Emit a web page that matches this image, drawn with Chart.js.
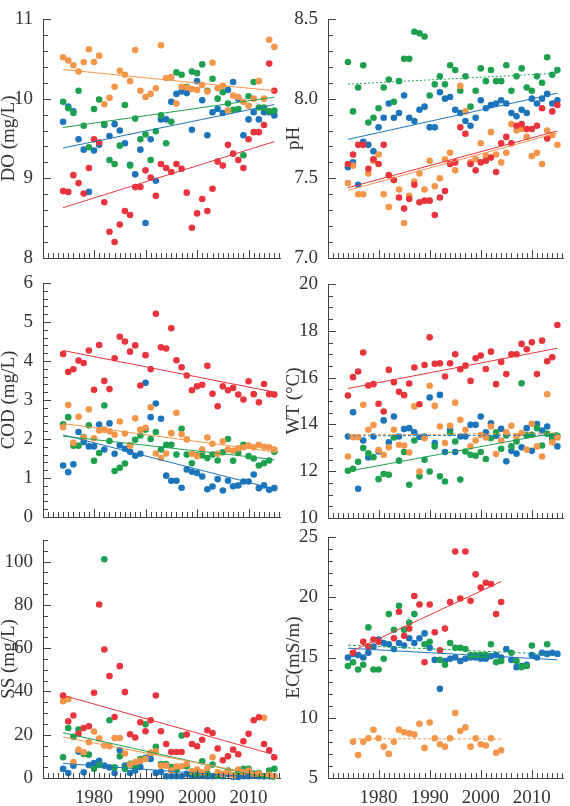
<!DOCTYPE html>
<html>
<head>
<meta charset="utf-8">
<script src="https://cdn.jsdelivr.net/npm/chart.js@4.4.1/dist/chart.umd.min.js"></script>
<style>
  body { margin: 0; background: #fff; }
  #wrap { position: relative; width: 570px; height: 806px; overflow: hidden; }
  canvas { position: absolute; }
</style>
</head>
<body>
<div id="wrap">
  <canvas id="cDO" width="285" height="272" style="left:0;top:0"></canvas>
  <canvas id="cPH" width="285" height="272" style="left:285px;top:0"></canvas>
  <canvas id="cCOD" width="285" height="270" style="left:0;top:265px"></canvas>
  <canvas id="cWT" width="285" height="270" style="left:285px;top:265px"></canvas>
  <canvas id="cSS" width="285" height="286" style="left:0;top:520px"></canvas>
  <canvas id="cEC" width="285" height="286" style="left:285px;top:520px"></canvas>
</div>
<script>
const years = [1974, 1975, 1976, 1977, 1978, 1979, 1980, 1981, 1982, 1983,
  1984, 1985, 1986, 1987, 1988, 1989, 1990, 1991, 1992, 1993,
  1994, 1995, 1996, 1997, 1998, 1999, 2000, 2001, 2002, 2003,
  2004, 2005, 2006, 2007, 2008, 2009, 2010, 2011, 2012, 2013,
  2014, 2015];
const yearLabels = [1980, 1990, 2000, 2010];

// DO (mg/L)
const doRed = [8.84, 8.83, 9.04, 8.94, 8.81, 9.13, 9.49, 9.45, 8.70, 8.33,
  8.20, 8.42, 8.59, 8.54, 8.89, 8.89, 9.10, 9.01, 8.78, 9.18,
  9.13, 9.08, 9.18, 9.12, 8.82, 8.38, 8.56, 8.74, 8.59, 8.87,
  9.21, 9.16, 9.42, 9.31, 9.23, 9.13, 9.49, 9.58, 9.58, 9.67,
  10.44, 10.10];
const doOrange = [10.52, 10.48, 10.42, 10.34, 10.46, 10.62, 10.46, 10.54, 9.93, 10.01,
  10.15, 10.35, 10.30, 10.22, 10.61, 10.10, 10.02, 10.06, 10.13, 10.67,
  10.26, 10.27, 9.94, 10.15, 10.14, 10.12, 10.11, 10.17, 10.09, 10.45,
  10.13, 10.16, 9.85, 10.04, 10.02, 9.96, 9.91, 10.00, 10.22, 10.00,
  10.74, 10.65];
const doGreen = [9.96, 9.88, 9.82, 10.10, 9.66, 9.39, 9.87, 9.99, 9.68, 9.23,
  9.18, 9.41, 9.92, 9.16, 9.75, 9.49, 9.55, 9.23, 9.59, 9.79,
  9.44, 9.71, 10.33, 10.30, 10.15, 10.34, 10.32, 10.43, 10.10, 10.25,
  10.00, 10.08, 9.94, 9.86, 9.87, 9.29, 10.03, 10.21, 9.89, 9.89,
  9.84, 9.85];
const doBlue = [9.71, 9.90, 9.84, 9.49, 9.36, 8.83, 9.35, 9.42, 9.67, 9.53,
  9.68, 9.60, 9.44, 9.17, 9.05, 9.36, 8.44, 9.49, 8.97, 9.74,
  9.74, 9.96, 10.06, 10.09, 10.07, 9.61, 10.22, 9.98, 9.54, 9.83,
  9.87, 9.82, 10.11, 10.21, 10.00, 9.54, 9.74, 9.83, 9.74, 9.83,
  9.83, 9.79];
const doTicks = [8, 9, 10, 11];

// pH
const phRed = [7.59, 7.65, 7.71, 7.71, 7.56, 7.62, 7.59, 7.71, 7.52, 7.49,
  7.38, 7.31, 7.37, 7.46, 7.35, 7.36, 7.36, 7.27, 7.38, 7.42,
  7.59, 7.60, 7.82, 7.78, 7.59, 7.55, 7.60, 7.61, 7.63, 7.54,
  7.72, 7.76, 7.72, 7.83, 7.84, 7.81, 7.81, 7.83, 7.94, 7.75,
  7.92, 7.96];
const phOrange = [7.47, 7.58, 7.40, 7.40, 7.53, 7.61, 7.65, 7.40, 7.32, 7.49,
  7.43, 7.22, 7.39, 7.48, 7.53, 7.43, 7.61, 7.45, 7.50, 7.62,
  7.66, 7.55, 8.08, 7.92, 7.60, 7.62, 7.72, 7.64, 7.79, 7.65,
  7.60, 7.66, 7.84, 7.80, 7.81, 7.76, 7.64, 7.66, 7.59, 7.80,
  7.77, 7.71];
const phGreen = [8.23, 7.92, 8.07, 8.21, 7.85, 7.88, 7.94, 8.07, 8.12, 7.98,
  8.11, 8.25, 8.25, 8.42, 8.41, 8.39, 8.02, 8.09, 8.14, 8.09,
  8.21, 8.18, 8.05, 8.14, 7.95, 8.05, 8.19, 8.11, 8.18, 8.11,
  8.11, 8.21, 8.05, 8.14, 8.19, 8.07, 8.05, 8.14, 8.10, 8.26,
  8.15, 8.18];
const phBlue = [7.57, 7.60, 7.46, 7.73, 7.71, 7.67, 7.82, 7.88, 7.97, 7.88,
  7.91, 8.02, 7.88, 7.86, 7.93, 7.95, 7.82, 7.82, 8.04, 8.00,
  8.01, 7.93, 7.91, 7.86, 7.83, 7.88, 7.99, 7.94, 7.96, 7.97,
  7.99, 7.97, 7.91, 7.89, 7.93, 7.91, 8.00, 7.97, 8.00, 8.03,
  7.97, 7.99];
const phTicks = [7.0, 7.5, 8.0, 8.5];

// COD (mg/L)
const codRed = [4.18, 3.72, 3.79, 4.01, 3.95, 4.27, 3.26, 4.41, 3.49, 3.28,
  4.07, 4.62, 4.50, 4.24, 4.40, 3.37, 4.15, 3.79, 5.21, 4.35,
  4.32, 4.84, 4.02, 3.84, 3.63, 3.25, 3.35, 3.39, 3.88, 3.16,
  2.84, 3.35, 3.25, 3.31, 3.14, 3.01, 3.48, 3.15, 2.94, 3.41,
  3.15, 3.14];
const codOrange = [2.30, 2.87, 1.90, 2.57, 2.04, 2.76, 2.02, 2.22, 2.24, 2.20,
  2.11, 2.45, 2.14, 1.83, 2.53, 2.24, 2.29, 2.81, 1.63, 1.51,
  1.63, 2.15, 2.67, 2.12, 1.99, 1.62, 1.56, 1.73, 2.04, 1.88,
  1.62, 1.94, 1.73, 1.70, 1.76, 1.79, 1.83, 1.79, 1.85, 1.80,
  1.79, 1.73];
const codGreen = [2.38, 2.56, 1.83, 1.83, 2.05, 2.35, 1.44, 1.64, 2.86, 1.95,
  1.18, 1.26, 1.37, 1.84, 1.98, 2.09, 2.24, 2.00, 2.18, 1.73,
  1.85, 1.85, 1.60, 2.26, 1.60, 1.38, 1.58, 1.58, 1.51, 1.60,
  1.45, 1.66, 2.00, 1.44, 1.64, 1.85, 1.56, 1.50, 1.32, 1.38,
  1.45, 1.67];
const codBlue = [1.32, 1.15, 1.35, 2.18, 1.92, 1.81, 1.81, 2.37, 1.73, 2.40,
  1.62, 1.84, 1.75, 1.67, 1.57, 1.62, 3.44, 2.56, 2.91, 2.52,
  1.06, 0.93, 0.93, 0.75, 1.22, 1.16, 1.13, 1.04, 0.71, 0.78,
  0.97, 0.68, 0.93, 0.79, 0.81, 0.91, 0.91, 1.09, 0.74, 0.81,
  0.70, 0.74];
const codTicks = [0, 1, 2, 3, 4, 5, 6];

// WT (°C)
const wtRed = [15.23, 16.02, 16.26, 17.07, 15.66, 15.72, 14.88, 14.55, 16.33, 15.80,
  15.39, 15.25, 15.75, 16.43, 14.86, 16.54, 17.72, 16.59, 16.61, 16.05,
  16.61, 17.00, 16.36, 16.51, 15.86, 16.83, 16.94, 16.37, 17.11, 15.72,
  16.67, 16.15, 17.00, 17.00, 17.44, 17.21, 17.51, 16.15, 17.58, 16.70,
  16.87, 18.25];
const wtOrange = [12.63, 13.45, 13.45, 14.84, 13.77, 13.97, 12.90, 12.70, 13.02, 13.77,
  13.13, 13.10, 12.80, 14.77, 11.99, 13.41, 15.65, 14.79, 13.91, 13.20,
  13.94, 14.93, 14.20, 13.77, 13.06, 13.31, 13.55, 13.44, 13.91, 12.73,
  13.31, 13.66, 13.94, 13.49, 13.63, 12.92, 14.03, 13.06, 12.63, 15.29,
  13.23, 13.44];
const wtGreen = [12.02, 12.10, 12.40, 12.99, 12.77, 12.60, 11.66, 11.88, 11.85, 13.44,
  12.45, 12.82, 11.42, 13.31, 11.78, 12.49, 11.99, 13.06, 11.78, 11.56,
  13.63, 13.27, 11.64, 12.84, 12.70, 12.66, 12.82, 12.52, 13.41, 13.66,
  12.96, 13.53, 13.06, 13.27, 15.76, 13.53, 13.56, 13.84, 13.10, 13.60,
  13.48, 13.50];
const wtBlue = [13.48, 14.52, 11.25, 13.31, 12.59, 13.48, 12.84, 14.17, 13.24, 14.34,
  13.48, 13.80, 13.84, 13.66, 13.46, 13.48, 15.15, 13.20, 15.26, 12.82,
  13.77, 12.82, 13.48, 13.48, 13.98, 13.98, 14.34, 13.66, 14.05, 13.51,
  13.81, 12.42, 12.87, 12.75, 13.02, 13.84, 12.87, 14.01, 13.74, 13.91,
  13.39, 13.06];
const wtTicks = [10, 12, 14, 16, 18, 20];

// SS (mg/L)
const ssRed = [38.1, 26.2, 28.9, 20.5, 23.1, 23.9, 39.4, 80.2, 59.4, 47.1,
  28.2, 51.7, 39.7, 20.2, 18.7, 25.8, 21.6, 26.7, 38.1, 21.6,
  15.7, 12.0, 12.0, 12.0, 20.1, 15.7, 14.7, 17.7, 22.1, 20.8,
  13.6, 8.2, 10.0, 13.1, 11.0, 17.0, 20.4, 26.7, 28.1, 15.7,
  12.8, 9.6];
const ssOrange = [35.5, 36.4, 7.4, 13.1, 11.9, 16.5, 21.5, 18.2, 15.0, 14.7,
  18.5, 18.5, 11.3, 6.2, 7.4, 7.9, 8.8, 11.6, 12.3, 5.7,
  5.7, 3.5, 5.4, 5.4, 6.5, 3.1, 3.9, 2.6, 4.6, 9.6,
  2.6, 1.9, 2.8, 1.1, 3.9, 2.6, 3.5, 1.5, 2.0, 27.8,
  1.5, 0.8];
const ssGreen = [9.6, 23.1, 19.0, 22.4, 11.1, 10.8, 4.3, 6.0, 101.1, 26.7,
  5.0, 10.0, 4.2, 6.6, 5.1, 8.8, 24.8, 11.6, 14.4, 6.5,
  6.5, 5.1, 3.5, 19.6, 5.4, 2.6, 1.9, 7.7, 2.0, 6.2,
  1.1, 1.5, 3.5, 1.1, 2.6, 4.3, 4.3, 2.0, 2.3, 0.8,
  3.4, 4.3];
const ssBlue = [4.2, 2.3, 5.7, 12.2, 2.6, 6.0, 6.9, 8.0, 5.7, 4.9,
  2.3, 12.8, 5.7, 2.3, 3.5, 5.1, 9.3, 8.8, 2.3, 2.9,
  0.8, 0.8, 0.8, 0.8, 1.9, 1.2, 1.2, 1.2, 0.8, 0.8,
  1.1, 0.8, 1.9, 0.5, 0.5, 0.8, 0.8, 1.1, 0.8, 0.8,
  0.8, 0.8];
const ssTicks = [0, 20, 40, 60, 80, 100];

// EC (mS/m)
const ecRed = [null, 15.4, null, 16.3, 15.9, 16.5, 16.3, null, null, 16.6,
  18.8, 16.8, 17.4, 20.1, 19.4, 14.6, 19.4, 17.1, 15.6, 17.4,
  19.6, 23.8, 19.9, 23.8, 19.7, 21.9, 20.8, 21.2, 21.1, 18.6,
  19.6, null, null, null, null, null, null, null, null, null,
  null, null];
const ecOrange = [null, 8.0, 6.9, 8.0, 8.3, 9.0, 8.3, 7.6, 7.0, 8.0,
  9.0, 8.8, 8.7, 8.6, 9.5, 7.5, 9.6, 8.3, 7.8, 7.6,
  8.3, 10.4, 8.9, 9.2, 7.6, 8.3, 7.8, 7.7, 8.3, 7.1,
  7.3, null, null, null, null, null, null, null, null, null,
  null, null];
const ecGreen = [14.3, 14.6, 14.0, 14.4, 17.5, 14.0, 14.0, 14.9, 18.6, 17.3,
  19.3, 17.3, 17.9, 18.6, null, 16.1, 16.3, null, 14.8, 14.4,
  16.2, 15.8, 15.8, 15.7, 15.2, 15.2, 15.2, 15.2, 16.1, 14.6,
  14.7, null, 15.4, 14.7, 14.2, 14.3, 16.0, null, null, 16.1,
  null, null];
const ecBlue = [15.0, 15.3, 15.2, 15.0, 15.4, 15.9, 16.5, 16.2, 16.1, 15.7,
  16.2, 16.0, 16.6, 16.2, 16.6, 17.0, 15.8, 14.8, 12.4, 14.7,
  14.9, 15.0, 14.7, 14.9, 15.0, 15.0, 14.9, 14.9, 15.1, 15.2,
  15.0, 15.7, 14.8, 14.2, 14.3, 14.4, 15.2, 15.0, 15.4, 15.3,
  15.4, 15.3];
const ecTicks = [5, 10, 15, 20, 25];

const RED = '#e8343c', ORANGE = '#f4964a', GREEN = '#1ea14e', BLUE = '#1c74ba';
const axisColor = '#444';
const textColor = '#333';
const serif = 'Liberation Serif, Times New Roman, serif';
const dotted = [2, 2];
const dashed = [3, 2];

// small inward tick marks like the original figure (one plugin per panel)
function innerTicks(minor, majors) {
  return {
    id: 'innerTicks',
    afterDraw(chart) {
      const ctx = chart.ctx, x = chart.scales.x, y = chart.scales.y;
      const a = chart.chartArea;
      ctx.save();
      ctx.strokeStyle = axisColor;
      ctx.lineWidth = 1;
      ctx.beginPath();
      for (let yr = Math.ceil(x.min); yr <= x.max; yr++) {
        const px = Math.round(x.getPixelForValue(yr)) + 0.5;
        const len = yr % 10 === 0 ? 8 : 5;
        ctx.moveTo(px, a.bottom);
        ctx.lineTo(px, a.bottom - len);
      }
      const n = Math.round((y.max - y.min) / minor);
      for (let i = 0; i <= n; i++) {
        const v = y.min + i * minor;
        const py = Math.round(y.getPixelForValue(v)) + 0.5;
        const major = majors.some(m => Math.abs(m - v) < 1e-6);
        ctx.moveTo(a.left, py);
        ctx.lineTo(a.left + (major ? 8 : 5), py);
      }
      ctx.stroke();
      ctx.restore();
    }
  };
}

// least squares line over the non-empty years of a series
function fitLine(vals) {
  const xs = [], ys = [];
  vals.forEach((v, i) => { if (v !== null) { xs.push(years[i]); ys.push(v); } });
  const n = xs.length;
  const mx = xs.reduce((s, v) => s + v, 0) / n;
  const my = ys.reduce((s, v) => s + v, 0) / n;
  let sxy = 0, sxx = 0;
  for (let i = 0; i < n; i++) {
    sxy += (xs[i] - mx) * (ys[i] - my);
    sxx += (xs[i] - mx) * (xs[i] - mx);
  }
  const b = sxy / sxx, a = my - b * mx;
  return [{ x: xs[0], y: a + b * xs[0] }, { x: xs[n - 1], y: a + b * xs[n - 1] }];
}

function makeChart(id, cfg) {
  const lines = [], dots = [];
  cfg.series.forEach(function (s) {
    const vals = s[0], color = s[1], dash = s[2];
    lines.push({
      type: 'line',
      data: fitLine(vals),
      borderColor: color,
      borderWidth: 1,
      borderDash: dash || [],
      pointRadius: 0,
      fill: false,
      clip: false
    });
    dots.push({
      type: 'scatter',
      data: years.map((yr, i) => ({ x: yr, y: vals[i] })).filter(p => p.y !== null),
      backgroundColor: color,
      borderWidth: 0,
      pointRadius: 3.3,
      clip: false
    });
  });

  return new Chart(document.getElementById(id), {
    type: 'scatter',
    data: { datasets: lines.concat(dots) },
    plugins: [innerTicks(cfg.minor, cfg.ticks)],
    options: {
      responsive: false,
      animation: false,
      events: [],
      layout: { padding: { top: cfg.padTop, right: cfg.padRight, bottom: 0, left: 0 } },
      plugins: {
        legend: { display: false },
        tooltip: { enabled: false }
      },
      scales: {
        x: {
          type: 'linear',
          min: 1970.1,
          max: 2016.1,
          grid: { display: false },
          border: { display: true, color: axisColor, width: 1 },
          afterBuildTicks: s => { s.ticks = yearLabels.map(v => ({ value: v })); },
          afterFit: s => { s.height = cfg.xHeight; },
          ticks: {
            display: cfg.showYears,
            color: textColor,
            padding: 1,
            maxRotation: 0,
            font: { family: serif, size: 19 },
            callback: v => String(v)
          }
        },
        y: {
          min: cfg.min,
          max: cfg.max,
          grid: { display: false },
          border: { display: true, color: axisColor, width: 1 },
          afterBuildTicks: s => { s.ticks = cfg.ticks.map(v => ({ value: v })); },
          afterFit: s => { s.width = 43; },
          ticks: {
            color: textColor,
            padding: 2,
            font: { family: serif, size: 19 },
            callback: v => cfg.decimals ? v.toFixed(cfg.decimals) : String(v)
          },
          title: {
            display: true,
            text: cfg.title,
            color: textColor,
            padding: { top: 0, bottom: 0 },
            font: { family: serif, size: 19, lineHeight: 1 }
          }
        }
      }
    }
  });
}

makeChart('cDO', {
  title: 'DO (mg/L)', min: 8, max: 11, ticks: doTicks, minor: 0.2,
  padTop: 19, padRight: 5, xHeight: 14, showYears: false,
  series: [[doRed, RED], [doOrange, ORANGE], [doGreen, GREEN], [doBlue, BLUE]]
});
makeChart('cPH', {
  title: 'pH', min: 7, max: 8.5, ticks: phTicks, minor: 0.1, decimals: 1,
  padTop: 19, padRight: 7, xHeight: 14, showYears: false,
  series: [[phRed, RED], [phOrange, ORANGE], [phGreen, GREEN, dotted], [phBlue, BLUE]]
});
makeChart('cCOD', {
  title: 'COD (mg/L)', min: 0, max: 6, ticks: codTicks, minor: 0.2,
  padTop: 18, padRight: 5, xHeight: 18, showYears: false,
  series: [[codRed, RED], [codOrange, ORANGE], [codGreen, GREEN], [codBlue, BLUE]]
});
makeChart('cWT', {
  title: 'WT (°C)', min: 10, max: 20, ticks: wtTicks, minor: 0.5,
  padTop: 19, padRight: 7, xHeight: 17, showYears: false,
  series: [[wtRed, RED], [wtOrange, ORANGE, dashed], [wtGreen, GREEN], [wtBlue, BLUE, dashed]]
});
makeChart('cSS', {
  title: 'SS (mg/L)', min: 0, max: 110, ticks: ssTicks, minor: 5,
  padTop: 20, padRight: 5, xHeight: 28, showYears: true,
  series: [[ssRed, RED], [ssOrange, ORANGE], [ssGreen, GREEN], [ssBlue, BLUE]]
});
makeChart('cEC', {
  title: 'EC(mS/m)', min: 5, max: 25, ticks: ecTicks, minor: 1,
  padTop: 17, padRight: 7, xHeight: 28, showYears: true,
  series: [[ecRed, RED], [ecOrange, ORANGE, dashed], [ecGreen, GREEN, dashed], [ecBlue, BLUE]]
});
</script>
</body>
</html>
